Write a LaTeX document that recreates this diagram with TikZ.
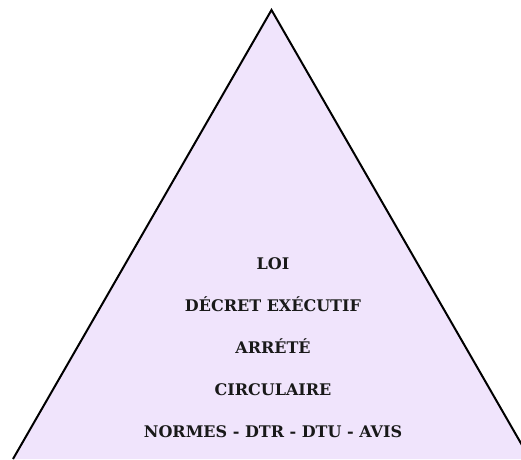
\documentclass[tikz,border=0pt]{standalone}
\usepackage{fontspec}
\setmainfont{DejaVu Serif}
\definecolor{lav}{HTML}{F0E4FC}
\begin{document}
\begin{tikzpicture}[x=1pt,y=1pt,
  lvl/.style={font=\bfseries\fontsize{16}{19}\selectfont, text=black!90, inner sep=0pt, anchor=base}]
\useasboundingbox (0,0) rectangle (521,459);
\clip (0,0) rectangle (521,459);
\coordinate (apex) at (271.5,449);
\coordinate (bl) at (13,0);
\coordinate (br) at (530,0);
\filldraw[fill=lav, draw=black, line width=2pt, line join=miter] (bl) -- (apex) -- (br);
\node[lvl] (loi) at (273,190) {LOI};
\node[lvl] (decret) at (273,148) {DÉCRET EXÉCUTIF};
\node[lvl] (arrete) at (273,106) {ARRÉTÉ};
\node[lvl] (circ) at (273,64) {CIRCULAIRE};
\node[lvl] (normes) at (273,22) {NORMES - DTR - DTU - AVIS};
\end{tikzpicture}
\end{document}
